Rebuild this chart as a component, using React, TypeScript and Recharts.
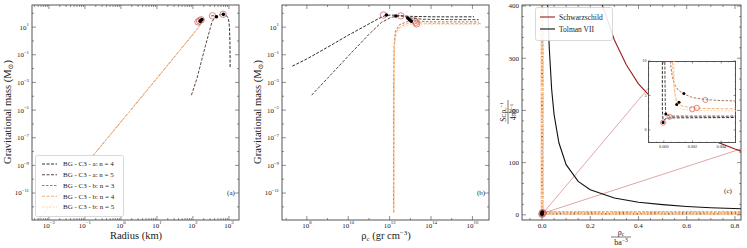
import React from 'react';
import { ComposedChart, Line, Scatter, XAxis, YAxis } from 'recharts';

type Pt = { x: number; y: number };
type Box = { l: number; r: number; t: number; b: number };

const FONT = '"Liberation Serif", "DejaVu Serif", serif';
const FRAME = '#444';
const RING = '#d46a66';

// legend of panels (a)/(b) and the curve styles
const seriesNames = ['BG - C3 - a: n = 4', 'BG - C3 - a: n = 5', 'BG - C3 - b: n = 3', 'BG - C3 - b: n = 4', 'BG - C3 - b: n = 5'];
const seriesColors = ['#161616', '#4e3024', '#a4674c', '#f3a265', '#fcd2a4'];
const seriesDash = ['3 1.5', '3 1.5', '2.5 1.5', '3 1.5', '2 1.5'];

// (a) radius (km) vs gravitational mass (Msun)
const radA4: Pt[] = [{ x: 1080, y: 0.013 }, { x: 1075, y: 0.1 }, { x: 1065, y: 1 }, { x: 1040, y: 8 }, { x: 1000, y: 25 }, { x: 930, y: 50 }, { x: 820, y: 75 }, { x: 690, y: 87 }, { x: 600, y: 82 }, { x: 540, y: 75 }];
const radA5: Pt[] = [{ x: 91, y: 1.2e-4 }, { x: 130, y: 2e-3 }, { x: 170, y: 0.03 }, { x: 220, y: 0.4 }, { x: 280, y: 4 }, { x: 340, y: 25 }, { x: 400, y: 45 }, { x: 450, y: 56 }, { x: 420, y: 64 }, { x: 360, y: 67 }, { x: 310, y: 64 }];
const radB3: Pt[] = [{ x: 0.005, y: 1.1e-13 }, { x: 0.1, y: 1e-9 }, { x: 1, y: 1.4e-6 }, { x: 10, y: 2e-3 }, { x: 100, y: 3 }, { x: 150, y: 11 }, { x: 170, y: 22 }, { x: 175, y: 32 }, { x: 165, y: 38 }, { x: 145, y: 35 }, { x: 135, y: 30 }];
const radB4: Pt[] = [{ x: 0.005, y: 1.1e-13 }, { x: 0.1, y: 1e-9 }, { x: 1, y: 1.4e-6 }, { x: 10, y: 2e-3 }, { x: 100, y: 3 }, { x: 140, y: 9 }, { x: 160, y: 18 }, { x: 163, y: 27 }, { x: 152, y: 31 }, { x: 136, y: 28 }, { x: 128, y: 24 }];
const radB5: Pt[] = [{ x: 0.005, y: 1.1e-13 }, { x: 0.1, y: 1e-9 }, { x: 1, y: 1.4e-6 }, { x: 10, y: 2e-3 }, { x: 100, y: 3 }, { x: 135, y: 8 }, { x: 150, y: 15 }, { x: 152, y: 23 }, { x: 142, y: 26 }, { x: 128, y: 23 }, { x: 121, y: 19 }];
const radRings: Pt[] = [{ x: 690, y: 85 }, { x: 350, y: 66 }, { x: 170, y: 34 }, { x: 152, y: 29 }, { x: 138, y: 24 }];
const radDots: Pt[] = [{ x: 700, y: 84 }, { x: 450, y: 56 }, { x: 178, y: 36 }, { x: 160, y: 27 }];

// (b) central density (gr cm^-3) vs gravitational mass
const rhoA4: Pt[] = [{ x: 2e7, y: 0.015 }, { x: 1e8, y: 0.05 }, { x: 1e9, y: 0.35 }, { x: 1e10, y: 2.6 }, { x: 1e11, y: 17 }, { x: 3e11, y: 42 }, { x: 6e11, y: 68 }, { x: 1.2e12, y: 75 }, { x: 3e12, y: 68 }, { x: 1e13, y: 60 }, { x: 1e14, y: 56 }, { x: 1e15, y: 55 }, { x: 1.2e16, y: 56 }];
const rhoA5: Pt[] = [{ x: 1.7e8, y: 1.2e-4 }, { x: 1e9, y: 2e-3 }, { x: 1e10, y: 0.08 }, { x: 1e11, y: 3 }, { x: 4e11, y: 22 }, { x: 1.2e12, y: 52 }, { x: 3.5e12, y: 65 }, { x: 1e13, y: 46 }, { x: 4e13, y: 37 }, { x: 1e15, y: 35 }, { x: 2e16, y: 35 }];
const rhoB3: Pt[] = [{ x: 1.55e12, y: 4e-13 }, { x: 1.56e12, y: 1e-8 }, { x: 1.58e12, y: 1e-3 }, { x: 1.65e12, y: 0.5 }, { x: 1.9e12, y: 5 }, { x: 3e12, y: 15 }, { x: 7e12, y: 25 }, { x: 1.6e13, y: 29 }, { x: 4e13, y: 26 }, { x: 1e14, y: 24 }, { x: 1e15, y: 24 }, { x: 2e16, y: 24 }];
const rhoB4: Pt[] = [{ x: 1.6e12, y: 4e-13 }, { x: 1.61e12, y: 1e-8 }, { x: 1.63e12, y: 1e-3 }, { x: 1.7e12, y: 0.5 }, { x: 2e12, y: 4 }, { x: 3.5e12, y: 12 }, { x: 8e12, y: 19 }, { x: 1.8e13, y: 22 }, { x: 5e13, y: 19 }, { x: 1e15, y: 18 }, { x: 2.5e16, y: 18 }];
const rhoB5: Pt[] = [{ x: 1.65e12, y: 4e-13 }, { x: 1.66e12, y: 1e-8 }, { x: 1.68e12, y: 1e-3 }, { x: 1.75e12, y: 0.5 }, { x: 2.1e12, y: 3.5 }, { x: 4e12, y: 10 }, { x: 9e12, y: 15 }, { x: 2e13, y: 17 }, { x: 6e13, y: 16 }, { x: 1e15, y: 15.5 }, { x: 2.5e16, y: 15.5 }];
const rhoRings: Pt[] = [{ x: 5e11, y: 75 }, { x: 3.5e12, y: 65 }, { x: 1.6e13, y: 29 }, { x: 1.8e13, y: 22 }, { x: 2e13, y: 17 }];
const rhoDots: Pt[] = [{ x: 7e11, y: 75 }, { x: 2e12, y: 63 }, { x: 7.5e12, y: 45 }, { x: 9e12, y: 35 }, { x: 1.1e13, y: 27 }];

// (c) rho_c / b a^-3 vs S_C rho_c^-1 / 4 pi b^-1 (also used by the inset)
const cmpA4: Pt[] = [{ x: -0.00012, y: 450 }, { x: -0.0001, y: 10.5 }, { x: -0.0001, y: 3 }, { x: -0.00005, y: 1.06 }, { x: 0.0001, y: 1.6 }, { x: 0.0004, y: 1.75 }, { x: 0.0055, y: 1.8 }, { x: 0.83, y: 1.8 }];
const cmpA5: Pt[] = [{ x: 0.00005, y: 450 }, { x: 0.00007, y: 10.5 }, { x: 0.0001, y: 4 }, { x: 0.00014, y: 2.3 }, { x: 0.0004, y: 2.0 }, { x: 0.0055, y: 2.0 }, { x: 0.83, y: 2.0 }];
const cmpB3: Pt[] = [{ x: 0.0004, y: 450 }, { x: 0.00045, y: 10.5 }, { x: 0.0005, y: 9 }, { x: 0.0006, y: 7.6 }, { x: 0.0008, y: 6.4 }, { x: 0.001, y: 5.8 }, { x: 0.0014, y: 5.2 }, { x: 0.002, y: 4.7 }, { x: 0.0029, y: 4.4 }, { x: 0.004, y: 4.25 }, { x: 0.0055, y: 4.2 }, { x: 0.83, y: 4.0 }];
const cmpB4: Pt[] = [{ x: 0.00055, y: 450 }, { x: 0.0006, y: 10.5 }, { x: 0.0007, y: 6.5 }, { x: 0.0008, y: 5 }, { x: 0.0009, y: 4.2 }, { x: 0.001, y: 3.85 }, { x: 0.0013, y: 3.45 }, { x: 0.0018, y: 3.25 }, { x: 0.0023, y: 3.15 }, { x: 0.003, y: 3.1 }, { x: 0.0055, y: 3.05 }, { x: 0.83, y: 3.0 }];
const cmpB5: Pt[] = [{ x: 0.00068, y: 450 }, { x: 0.0007, y: 10.5 }, { x: 0.00075, y: 6.5 }, { x: 0.0008, y: 4.8 }, { x: 0.0009, y: 3.7 }, { x: 0.001, y: 3.3 }, { x: 0.0013, y: 3.0 }, { x: 0.002, y: 2.85 }, { x: 0.003, y: 2.8 }, { x: 0.0055, y: 2.75 }, { x: 0.83, y: 2.75 }];
const cmpRings: Pt[] = [{ x: -0.00005, y: 1.06 }, { x: 0.0004, y: 1.9 }, { x: 0.0029, y: 4.35 }, { x: 0.00198, y: 3.0 }, { x: 0.0023, y: 3.2 }];
const cmpDots: Pt[] = [{ x: -0.00005, y: 1.06 }, { x: 0.00014, y: 2.3 }, { x: 0.0014, y: 5.3 }, { x: 0.0009, y: 3.7 }, { x: 0.00106, y: 4.0 }];
const schwarzschild: Pt[] = [{ x: 0.25, y: 402 }, { x: 0.3, y: 335 }, { x: 0.35, y: 287 }, { x: 0.4, y: 251 }, { x: 0.5, y: 201 }, { x: 0.6, y: 168 }, { x: 0.7, y: 144 }, { x: 0.8, y: 126 }, { x: 0.83, y: 121 }];
const tolmanVII: Pt[] = [{ x: 0.022, y: 420 }, { x: 0.03, y: 320 }, { x: 0.04, y: 240 }, { x: 0.05, y: 192 }, { x: 0.07, y: 138 }, { x: 0.1, y: 96 }, { x: 0.15, y: 64 }, { x: 0.2, y: 48 }, { x: 0.3, y: 32 }, { x: 0.4, y: 24 }, { x: 0.5, y: 19.5 }, { x: 0.6, y: 16 }, { x: 0.7, y: 13.5 }, { x: 0.83, y: 11.5 }];
const insetLink1: Pt[] = [{ x: 0.004, y: 3 }, { x: 0.5, y: 275 }];
const insetLink2: Pt[] = [{ x: 0.004, y: 3 }, { x: 0.83, y: 127 }];
const cLegend = ['Schwarzschild', 'Tolman VII'];
const cLegendColors = ['#9b1c1c', '#111111'];

// tick values
const logMinor = (from: number, to: number) => {
  const out: number[] = [];
  for (let e = from; e < to; e++) for (let k = 2; k <= 9; k++) out.push(k * Math.pow(10, e));
  return out;
};
const aXDomain = [Math.pow(10, -2.47), Math.pow(10, 3.28)];
const aXMajor = [1e-2, 1e-1, 1, 1e1, 1e2, 1e3];
const aXTicks = [...aXMajor, ...logMinor(-3, 4)].filter((v) => v >= aXDomain[0] && v <= aXDomain[1]);
const mYDomain = [Math.pow(10, -12.95), Math.pow(10, 2.6)];
const mYMajor = [1e1, 1e-1, 1e-3, 1e-5, 1e-7, 1e-9, 1e-11];
const mYTicks = [...mYMajor, 1e2, 1, 1e-2, 1e-4, 1e-6, 1e-8, 1e-10, 1e-12];
const bXDomain = [Math.pow(10, 6.8), Math.pow(10, 16.8)];
const bXMajor = [1e8, 1e10, 1e12, 1e14, 1e16];
const bXTicks = [...bXMajor, 1e7, 1e9, 1e11, 1e13, 1e15];
const cXMajor = [0, 0.2, 0.4, 0.6, 0.8];
const cXTicks = [-0.05, 0, 0.05, 0.1, 0.15, 0.2, 0.25, 0.3, 0.35, 0.4, 0.45, 0.5, 0.55, 0.6, 0.65, 0.7, 0.75, 0.8];
const cYMajor = [0, 100, 200, 300, 400];
const cYTicks = [0, 20, 40, 60, 80, 100, 120, 140, 160, 180, 200, 220, 240, 260, 280, 300, 320, 340, 360, 380, 400];
const iXMajor = [0, 0.002, 0.004];
const iXTicks = [-0.001, -0.0005, 0, 0.0005, 0.001, 0.0015, 0.002, 0.0025, 0.003, 0.0035, 0.004, 0.0045, 0.005];
const iYMajor = [0, 5, 10];
const iYTicks = [-1, 0, 1, 2, 3, 4, 5, 6, 7, 8, 9, 10];

const near = (a: number, b: number) => Math.abs(a - b) <= Math.abs(b) * 1e-6 + 1e-12;

const logFmt = (v: number) => {
  const e = Math.round(Math.log10(v));
  return (
    <>
      <tspan>10</tspan>
      <tspan dy={-3.2} fontSize={4.8}>{e < 0 ? '\u2212' + -e : String(e)}</tspan>
    </>
  );
};

function xTick(box: Box, majors: number[], fmt: (v: number) => React.ReactNode, fs: number, maj: number, min: number, gap: number) {
  return (p: any) => {
    const v = p.payload.value;
    const x = p.x;
    const isMaj = majors.some((m) => near(v, m));
    const len = isMaj ? maj : min;
    return (
      <g>
        <line x1={x} x2={x} y1={box.b} y2={box.b - len} stroke={FRAME} strokeWidth={0.6} />
        <line x1={x} x2={x} y1={box.t} y2={box.t + len} stroke={FRAME} strokeWidth={0.6} />
        {isMaj && (
          <text x={x} y={box.b + gap} textAnchor="middle" fontSize={fs} fontFamily={FONT} fill="#222">
            {fmt(v)}
          </text>
        )}
      </g>
    );
  };
}

function yTick(box: Box, majors: number[], fmt: (v: number) => React.ReactNode, fs: number, maj: number, min: number, gap: number) {
  return (p: any) => {
    const v = p.payload.value;
    const y = p.y;
    const isMaj = majors.some((m) => near(v, m));
    const len = isMaj ? maj : min;
    return (
      <g>
        <line x1={box.l} x2={box.l + len} y1={y} y2={y} stroke={FRAME} strokeWidth={0.6} />
        <line x1={box.r} x2={box.r - len} y1={y} y2={y} stroke={FRAME} strokeWidth={0.6} />
        {isMaj && (
          <text x={box.l - gap} y={y + fs * 0.35} textAnchor="end" fontSize={fs} fontFamily={FONT} fill="#222">
            {fmt(v)}
          </text>
        )}
      </g>
    );
  };
}

const ring = (r: number) => (p: any) => <circle cx={p.cx} cy={p.cy} r={r} fill="none" stroke={RING} strokeWidth={0.8} />;
const dot = (r: number) => (p: any) => <circle cx={p.cx} cy={p.cy} r={r} fill="#000" />;

function curves(sets: Pt[][], widths: number[]) {
  return sets.map((d, i) => (
    <Line
      key={i}
      data={d}
      dataKey="y"
      type="linear"
      stroke={seriesColors[i]}
      strokeWidth={widths[i]}
      strokeDasharray={seriesDash[i]}
      dot={false}
      activeDot={false}
      isAnimationActive={false}
    />
  ));
}

const thin = [0.9, 0.9, 0.9, 0.9, 0.9];
const thickB = [0.8, 0.8, 2.2, 2.8, 2.8];

const boxAB: Box = { l: 32, r: 239, t: 5, b: 220 };
const boxC: Box = { l: 32, r: 251, t: 5, b: 220 };
const boxIn: Box = { l: 10, r: 98, t: 3, b: 85 };

export default function App() {
  const logX = (v: number) => logFmt(v);
  return (
    <div style={{ position: 'absolute', left: 0, top: 0, width: 747, height: 248, background: '#fff', overflow: 'hidden' }}>
      {/* panel (a) */}
      <div style={{ position: 'absolute', left: 0, top: 0 }}>
        <ComposedChart width={245} height={248} margin={{ top: 5, right: 6, bottom: 0, left: 0 }}>
          <XAxis dataKey="x" type="number" scale="log" domain={aXDomain} allowDataOverflow ticks={aXTicks} interval={0} height={28} axisLine={false} tickLine={false} tick={xTick(boxAB, aXMajor, logX, 7, 4, 2, 7.5)} />
          <YAxis dataKey="y" type="number" scale="log" domain={mYDomain} allowDataOverflow ticks={mYTicks} interval={0} width={32} axisLine={false} tickLine={false} tick={yTick(boxAB, mYMajor, logX, 7, 4, 2, 3)} />
          {curves([radA4, radA5, radB3, radB4, radB5], thin)}
          <Scatter data={radRings} shape={ring(3.2)} isAnimationActive={false} />
          <Scatter data={radDots} shape={dot(1.8)} isAnimationActive={false} />
        </ComposedChart>
      </div>
      {/* panel (b) */}
      <div style={{ position: 'absolute', left: 250, top: 0 }}>
        <ComposedChart width={245} height={248} margin={{ top: 5, right: 6, bottom: 0, left: 0 }}>
          <XAxis dataKey="x" type="number" scale="log" domain={bXDomain} allowDataOverflow ticks={bXTicks} interval={0} height={28} axisLine={false} tickLine={false} tick={xTick(boxAB, bXMajor, logX, 7, 4, 2, 7.5)} />
          <YAxis dataKey="y" type="number" scale="log" domain={mYDomain} allowDataOverflow ticks={mYTicks} interval={0} width={32} axisLine={false} tickLine={false} tick={yTick(boxAB, mYMajor, logX, 7, 4, 2, 3)} />
          {curves([rhoA4, rhoA5, rhoB3, rhoB4, rhoB5], thin)}
          <Scatter data={rhoRings} shape={ring(3.2)} isAnimationActive={false} />
          <Scatter data={rhoDots} shape={dot(1.8)} isAnimationActive={false} />
        </ComposedChart>
      </div>
      {/* panel (c) */}
      <div style={{ position: 'absolute', left: 490, top: 0 }}>
        <ComposedChart width={253} height={248} margin={{ top: 5, right: 2, bottom: 0, left: 0 }}>
          <XAxis dataKey="x" type="number" domain={[-0.083, 0.825]} allowDataOverflow ticks={cXTicks} interval={0} height={28} axisLine={false} tickLine={false} tick={xTick(boxC, cXMajor, (v) => v.toFixed(1), 7, 4, 2, 7.5)} />
          <YAxis dataKey="y" type="number" domain={[-10, 402]} allowDataOverflow ticks={cYTicks} interval={0} width={32} axisLine={false} tickLine={false} tick={yTick(boxC, cYMajor, (v) => String(v), 7, 4, 2, 3)} />
          <Line data={insetLink1} dataKey="y" stroke="#d68080" strokeWidth={0.7} dot={false} activeDot={false} isAnimationActive={false} />
          <Line data={insetLink2} dataKey="y" stroke="#d68080" strokeWidth={0.7} dot={false} activeDot={false} isAnimationActive={false} />
          <Line data={schwarzschild} dataKey="y" stroke={cLegendColors[0]} strokeWidth={1.1} dot={false} activeDot={false} isAnimationActive={false} />
          <Line data={tolmanVII} dataKey="y" stroke={cLegendColors[1]} strokeWidth={1.1} dot={false} activeDot={false} isAnimationActive={false} />
          {curves([cmpA4, cmpA5, cmpB3, cmpB4, cmpB5], thickB)}
          <Scatter data={cmpRings} shape={ring(3.2)} isAnimationActive={false} />
          <Scatter data={cmpDots} shape={dot(1.8)} isAnimationActive={false} />
        </ComposedChart>
      </div>
      {/* inset of (c) */}
      <div style={{ position: 'absolute', left: 648, top: 61, width: 88, height: 82, background: '#fff', border: '0.8px solid #555', boxSizing: 'border-box' }} />
      <div style={{ position: 'absolute', left: 638, top: 58 }}>
        <ComposedChart width={98} height={93} margin={{ top: 3, right: 0, bottom: 0, left: 0 }}>
          <XAxis dataKey="x" type="number" domain={[-0.0011, 0.00503]} allowDataOverflow ticks={iXTicks} interval={0} height={8} axisLine={false} tickLine={false} tick={xTick(boxIn, iXMajor, (v) => v.toFixed(3), 4.2, 2.5, 1.3, 5)} />
          <YAxis dataKey="y" type="number" domain={[-1.9, 10]} allowDataOverflow ticks={iYTicks} interval={0} width={10} axisLine={false} tickLine={false} tick={yTick(boxIn, iYMajor, (v) => String(v), 4.2, 2.5, 1.3, 1.5)} />
          {curves([cmpA4, cmpA5, cmpB3, cmpB4, cmpB5], thin)}
          <Scatter data={cmpRings} shape={ring(2.6)} isAnimationActive={false} />
          <Scatter data={cmpDots} shape={dot(1.5)} isAnimationActive={false} />
        </ComposedChart>
      </div>
      {/* frames, labels, legends */}
      <svg width={747} height={248} style={{ position: 'absolute', left: 0, top: 0, pointerEvents: 'none' }} fontFamily={FONT}>
        <rect x={32} y={5} width={207} height={215} fill="none" stroke={FRAME} strokeWidth={0.9} />
        <rect x={282} y={5} width={207} height={215} fill="none" stroke={FRAME} strokeWidth={0.9} />
        <rect x={522} y={5} width={219} height={215} fill="none" stroke={FRAME} strokeWidth={0.9} />

        <text x={136} y={239} textAnchor="middle" fontSize={10.5} fill="#222">Radius (km)</text>
        <text x={386} y={239} textAnchor="middle" fontSize={10.5} fill="#222">
          ρ<tspan dy={2} fontSize={7}>c</tspan>
          <tspan dy={-2}> (gr cm</tspan>
          <tspan dy={-4} fontSize={7}>−3</tspan>
          <tspan dy={4}>)</tspan>
        </text>
        {[11, 261].map((x) => (
          <text key={x} transform={`translate(${x},112) rotate(-90)`} textAnchor="middle" fontSize={10.5} fill="#222">
            Gravitational mass (M<tspan dy={2} fontSize={7}>⊙</tspan>
            <tspan dy={-2}>)</tspan>
          </text>
        ))}
        <g transform="translate(508,112) rotate(-90)" fill="#222">
          <text x={0} y={-2.5} textAnchor="middle" fontSize={7.5}>
            S<tspan fontSize={6}>C</tspan>ρ<tspan dy={1.5} fontSize={5}>c</tspan>
            <tspan dy={-4.5} fontSize={5}>−1</tspan>
          </text>
          <line x1={-12} x2={12} y1={0} y2={0} stroke="#222" strokeWidth={0.6} />
          <text x={0} y={7.5} textAnchor="middle" fontSize={7.5}>
            4πb<tspan dy={-3} fontSize={5}>−1</tspan>
          </text>
        </g>
        <g transform="translate(621,237)" fill="#222">
          <text x={0} y={-2.5} textAnchor="middle" fontSize={8}>
            ρ<tspan dy={1.5} fontSize={5.5}>c</tspan>
          </text>
          <line x1={-10} x2={10} y1={0} y2={0} stroke="#222" strokeWidth={0.6} />
          <text x={0} y={8} textAnchor="middle" fontSize={8}>
            ba<tspan dy={-3} fontSize={5.5}>−3</tspan>
          </text>
        </g>
        <text x={231} y={195} textAnchor="middle" fontSize={7} fill="#222">(a)</text>
        <text x={481} y={195} textAnchor="middle" fontSize={7} fill="#222">(b)</text>
        <text x={728} y={193} textAnchor="middle" fontSize={7} fill="#222">(c)</text>

        <rect x={35.5} y={155.5} width={88} height={61} rx={2} fill="#fff" fillOpacity={0.88} stroke="#cfcfcf" strokeWidth={0.8} />
        {seriesNames.map((n, i) => (
          <g key={n}>
            <line x1={42} x2={57} y1={164 + i * 10.75} y2={164 + i * 10.75} stroke={seriesColors[i]} strokeWidth={0.9} strokeDasharray={seriesDash[i]} />
            <text x={63} y={166.4 + i * 10.75} fontSize={7} fill="#222">{n}</text>
          </g>
        ))}
        <rect x={535.5} y={7.5} width={77} height={33} rx={2} fill="#fff" fillOpacity={0.88} stroke="#cfcfcf" strokeWidth={0.8} />
        {cLegend.map((n, i) => (
          <g key={n}>
            <line x1={540} x2={555} y1={17 + i * 12} y2={17 + i * 12} stroke={cLegendColors[i]} strokeWidth={1.1} />
            <text x={559} y={19.6 + i * 12} fontSize={7.5} fill="#222">{n}</text>
          </g>
        ))}
      </svg>
    </div>
  );
}
